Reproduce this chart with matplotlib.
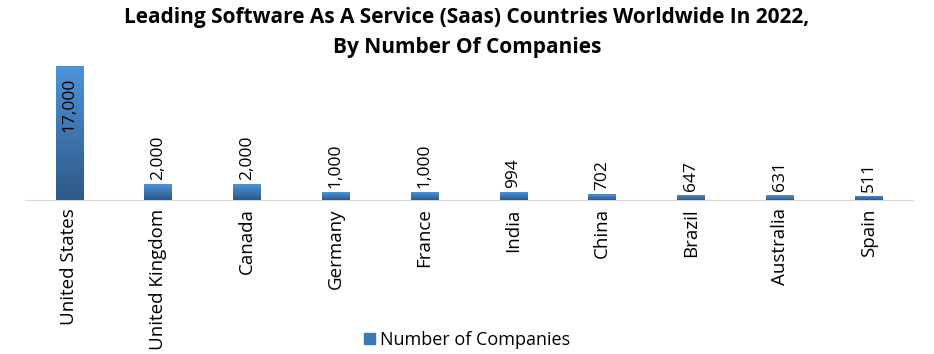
import matplotlib.pyplot as plt
import numpy as np
from matplotlib.patches import Patch

countries = ["United States", "United Kingdom", "Canada", "Germany", "France",
             "India", "China", "Brazil", "Australia", "Spain"]
companies = [17000, 2000, 2000, 1000, 1000, 994, 702, 647, 631, 511]
labels = ["17,000", "2,000", "2,000", "1,000", "1,000", "994", "702", "647", "631", "511"]

plt.rcParams['font.family'] = ['Open Sans', 'DejaVu Sans']

fig = plt.figure(figsize=(9.34, 3.54), dpi=100)
ax = fig.add_axes([25 / 934, 1 - 200 / 354, 888 / 934, 134 / 354])

x = np.arange(len(countries))
width = 0.31
bars = ax.bar(x, companies, width, color="#3a78b5", zorder=2)

# vertical gradient on each bar: dark at bottom, light at top
grad = np.linspace(0, 1, 256).reshape(-1, 1)
cmap = plt.matplotlib.colors.LinearSegmentedColormap.from_list("g", ["#2d5986", "#4d93d9"])
for b in bars:
    x0, y0 = b.get_x(), b.get_y()
    im = ax.imshow(grad, extent=[x0, x0 + b.get_width(), y0, y0 + b.get_height()],
                   origin="lower", aspect="auto", cmap=cmap, zorder=3)
    im.set_clip_path(b)

for i, (v, t) in enumerate(zip(companies, labels)):
    if i == 0:
        ax.text(i, v - 1500, t, rotation=90, ha="center", va="top", fontsize=12.5, zorder=4)
    else:
        ax.text(i, v + 550, t, rotation=90, ha="center", va="bottom", fontsize=12.5, zorder=4)

ax.set_xlim(-0.5, len(countries) - 0.5)
ax.set_ylim(0, 17000)
ax.set_yticks([])
ax.set_xticks(x)
ax.set_xticklabels(countries, rotation=90, fontsize=13.5)
ax.tick_params(axis="x", length=0, pad=6)
for s in ["top", "right", "left"]:
    ax.spines[s].set_visible(False)
ax.spines["bottom"].set_color("#d9d9d9")

fig.text(0.5, 1 - 18 / 354, "Leading Software As A Service (Saas) Countries Worldwide In 2022,",
         ha="center", va="center", fontsize=15, fontweight="bold")
fig.text(0.5, 1 - 47 / 354, "By Number Of Companies",
         ha="center", va="center", fontsize=15, fontweight="bold")

fig.legend(handles=[Patch(color="#3a78b5", label="Number of Companies")],
           loc="center", bbox_to_anchor=(0.5, 1 - 340 / 354), frameon=False,
           fontsize=13, handlelength=0.6, handleheight=0.6, handletextpad=0.3)

fig.savefig("out.png", dpi=100)
